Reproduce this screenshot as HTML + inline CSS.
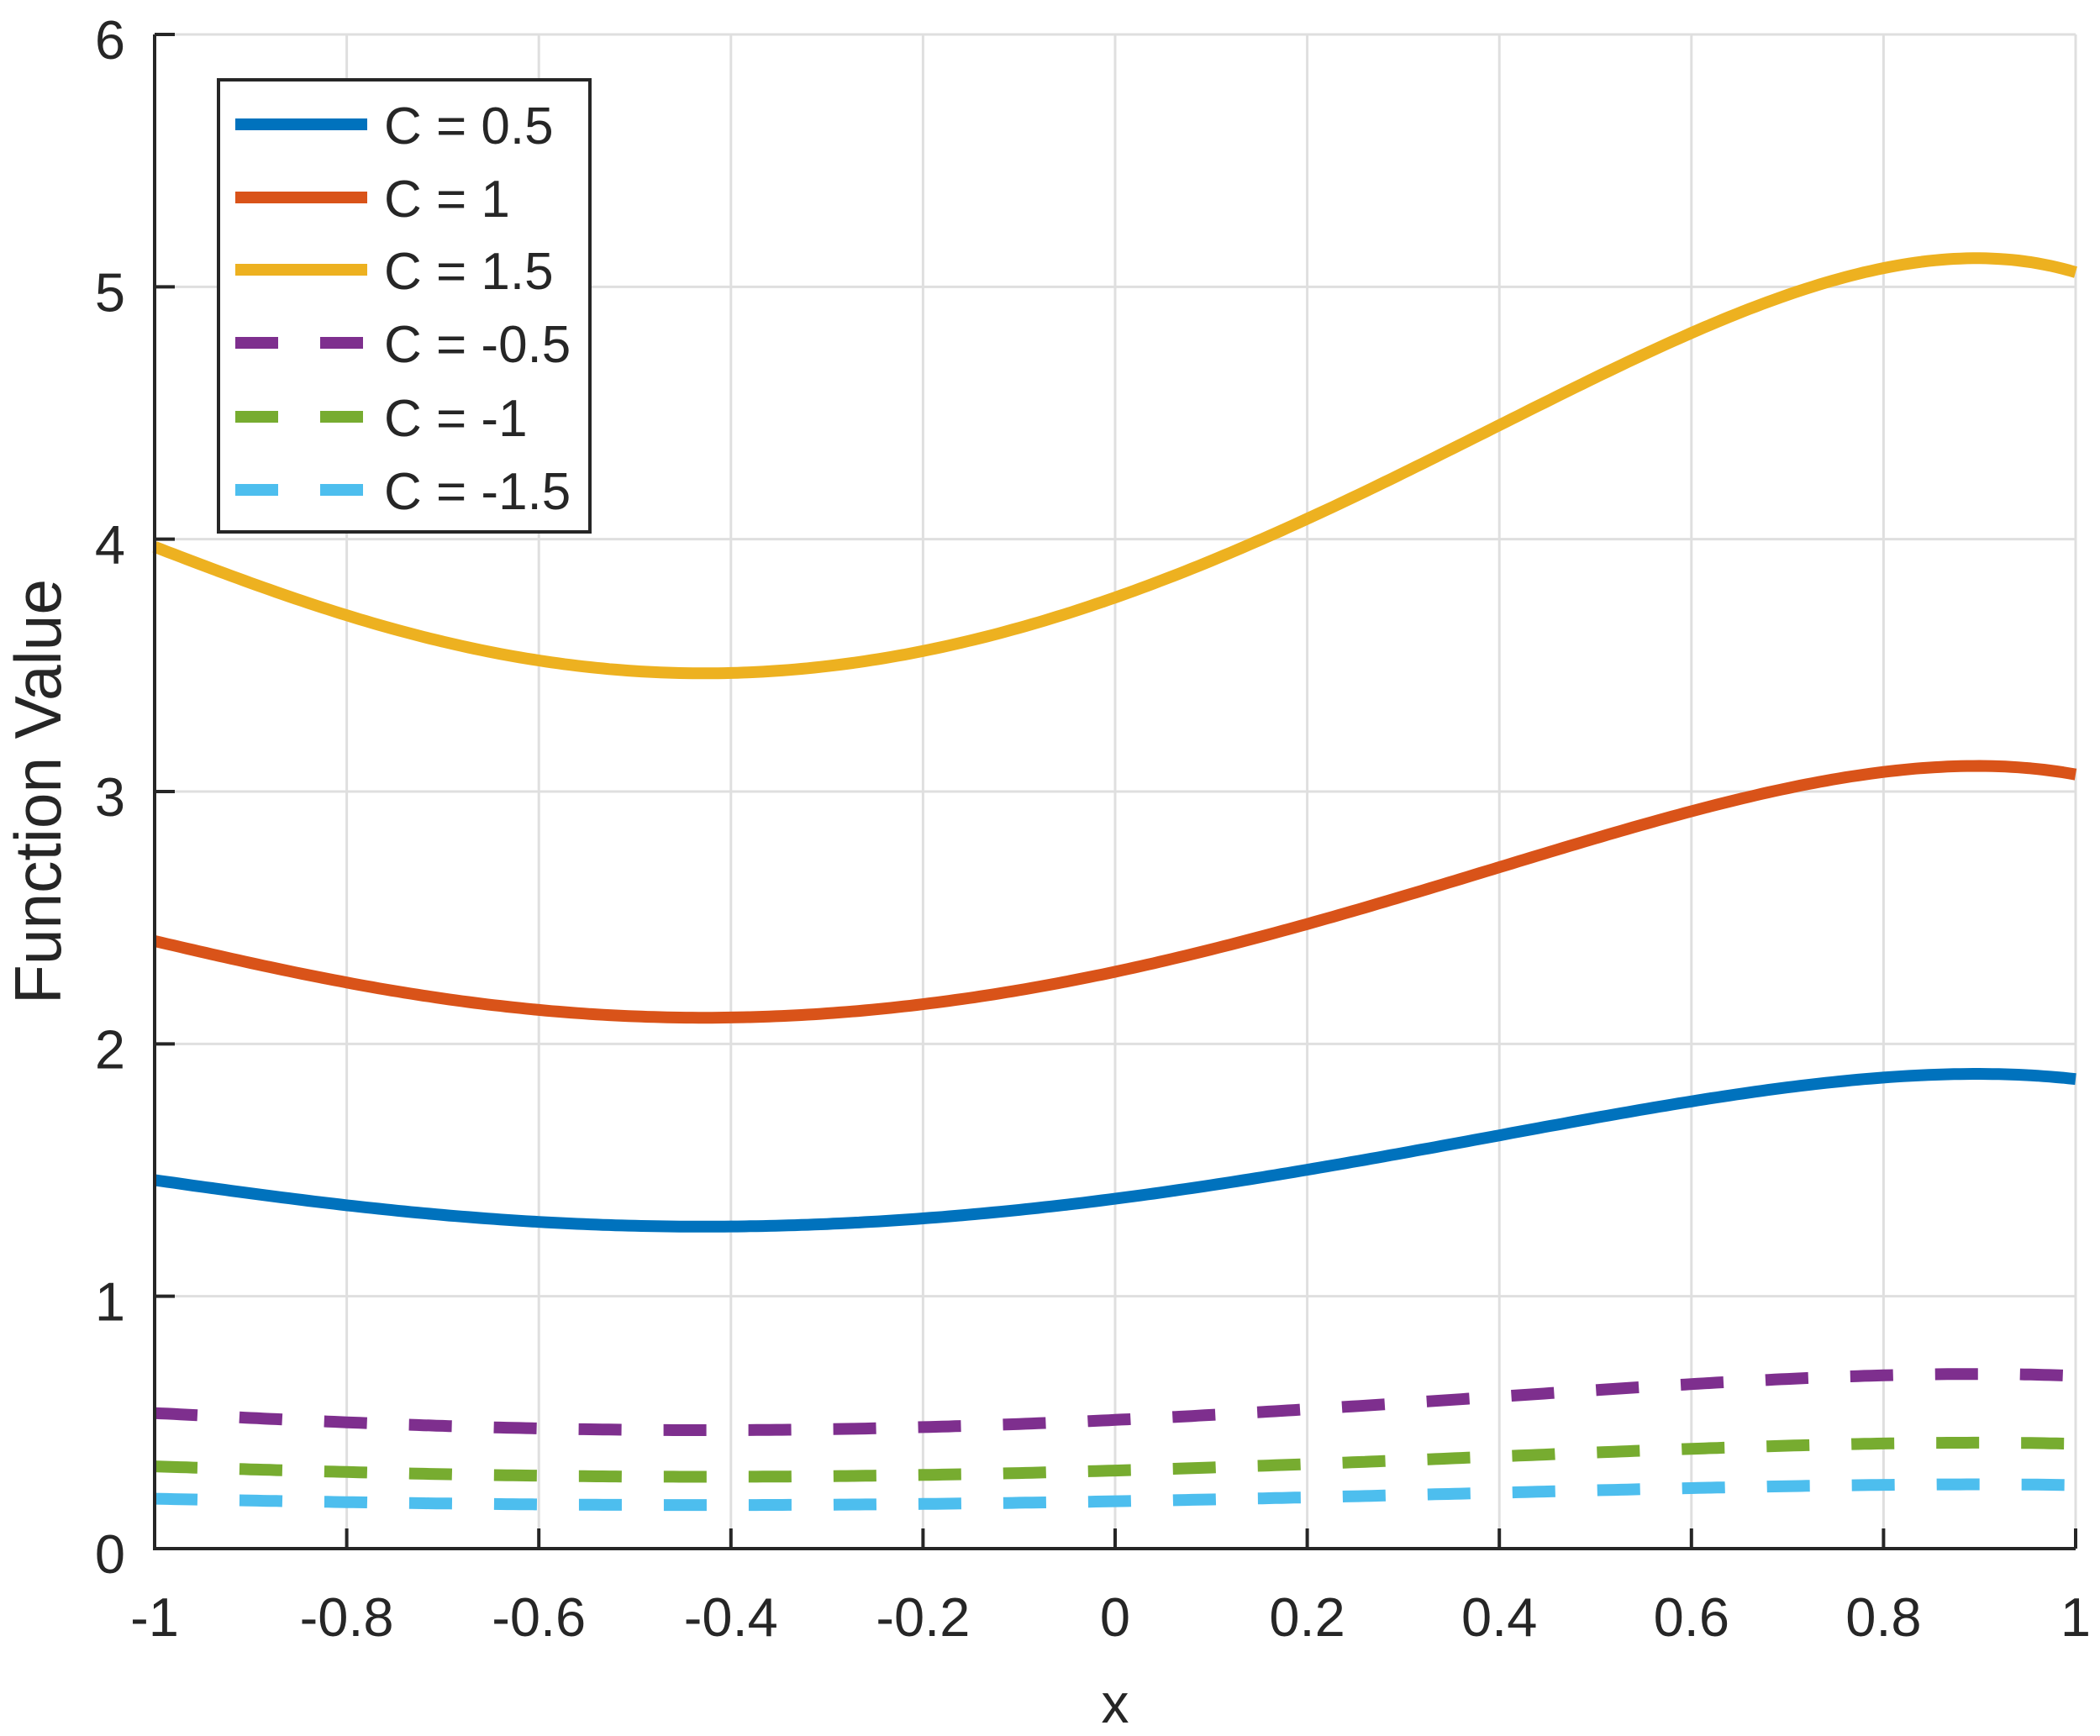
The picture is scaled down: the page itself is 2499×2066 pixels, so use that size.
<!DOCTYPE html>
<html><head><meta charset="utf-8"><style>
html,body{margin:0;padding:0;background:#fff;}
svg{display:block;}
text{font-family:"Liberation Sans",sans-serif;fill:#262626;}
</style></head><body>
<svg id="s" width="2499" height="2066" viewBox="0 0 2499 2066" xmlns="http://www.w3.org/2000/svg">
<g id="grid" stroke="#dfdfdf" stroke-width="3"></g>
<g id="curves" fill="none" stroke-width="14" stroke-linejoin="round"></g>
<g id="axes" stroke="#262626" stroke-width="4" fill="none"></g>
<g id="labels" font-size="65"></g>
<text x="1327" y="2050" font-size="66" text-anchor="middle">x</text>
<text transform="translate(72,942) rotate(-90)" font-size="78" text-anchor="middle" textLength="506" lengthAdjust="spacingAndGlyphs">Function Value</text>
<g id="legend"></g>
</svg>
<script>
var L=184,R=2470,T=41,B=1843;
function X(x){return L+(x+1)/2*(R-L);}
function Y(y){return B-y/6*(B-T);}
var ns="http://www.w3.org/2000/svg";
function el(p,tag,a,txt){var e=document.createElementNS(ns,tag);for(var k in a)e.setAttribute(k,a[k]);if(txt!=null)e.textContent=txt;document.getElementById(p).appendChild(e);return e;}
for(var i=0;i<=10;i++){var x=X(-1+i*0.2);el("grid","line",{x1:x,y1:T,x2:x,y2:B});}
for(var j=0;j<=6;j++){var y=Y(j);el("grid","line",{x1:L,y1:y,x2:R,y2:y});}
var px=[-1,-0.8,-0.6,-0.45,-0.2,0,0.2,0.4,0.6,0.8,0.9,1];
var py=[3.97,3.696,3.526,3.463,3.558,3.771,4.079,4.45,4.822,5.066,5.12,5.056];
// least squares polynomial fit degree 6
var deg=6,n=deg+1,A=[],bv=[];
for(var r=0;r<n;r++){A.push(new Array(n).fill(0));bv.push(0);}
for(var k=0;k<px.length;k++){for(var r=0;r<n;r++){bv[r]+=Math.pow(px[k],r)*py[k];for(var c=0;c<n;c++)A[r][c]+=Math.pow(px[k],r+c);}}
for(var c=0;c<n;c++){var p=c;for(var r=c+1;r<n;r++)if(Math.abs(A[r][c])>Math.abs(A[p][c]))p=r;
 var t=A[c];A[c]=A[p];A[p]=t;t=bv[c];bv[c]=bv[p];bv[p]=t;
 for(var r=0;r<n;r++)if(r!=c){var f=A[r][c]/A[c][c];for(var q=c;q<n;q++)A[r][q]-=f*A[c][q];bv[r]-=f*bv[c];}}
var co=[];for(var r=0;r<n;r++)co.push(bv[r]/A[r][r]);
function interp(x){var s=0;for(var r=n-1;r>=0;r--)s=s*x+co[r];return s;}
var series=[[0.5,"#0072bd",0],[1,"#d95319",0],[1.5,"#edb120",0],[-0.5,"#7e2f8e",1],[-1,"#77ac30",1],[-1.5,"#4dbeee",1]];
series.forEach(function(s){var f=Math.exp(s[0]-1.5),d="";
 for(var k=0;k<=300;k++){var x=-1+2*k/300;d+=(k?"L":"M")+X(x).toFixed(1)+","+Y(interp(x)*f).toFixed(1);}
 var a={d:d,stroke:s[1]};if(s[2])a["stroke-dasharray"]="51 50";el("curves","path",a);});
el("axes","path",{d:"M"+L+","+T+"L"+L+","+B+"L"+R+","+B});
for(var i=0;i<=10;i++){var x=X(-1+i*0.2);el("axes","line",{x1:x,y1:B,x2:x,y2:B-24});}
for(var j=0;j<=6;j++){var y=Y(j);el("axes","line",{x1:L,y1:y,x2:L+24,y2:y});}
var xl=["-1","-0.8","-0.6","-0.4","-0.2","0","0.2","0.4","0.6","0.8","1"];
for(var i=0;i<=10;i++){el("labels","text",{x:X(-1+i*0.2),y:1947,"text-anchor":"middle"},xl[i]);}
for(var j=0;j<=6;j++){el("labels","text",{x:149,y:Y(j)+29,"text-anchor":"end"},String(j));}
el("legend","rect",{x:260,y:95,width:442,height:538,fill:"#fff",stroke:"#262626","stroke-width":4});
var rows=[148,235,321,408,496,583],names=["C = 0.5","C = 1","C = 1.5","C = -0.5","C = -1","C = -1.5"];
series.forEach(function(s,i){var y=rows[i];
 var a={x1:280,y1:y,x2:437,y2:y,stroke:s[1],"stroke-width":14};if(s[2])a["stroke-dasharray"]="51 50";el("legend","line",a);
 el("legend","text",{x:457,y:y+23,"font-size":62},names[i]);});
</script>
</body></html>
